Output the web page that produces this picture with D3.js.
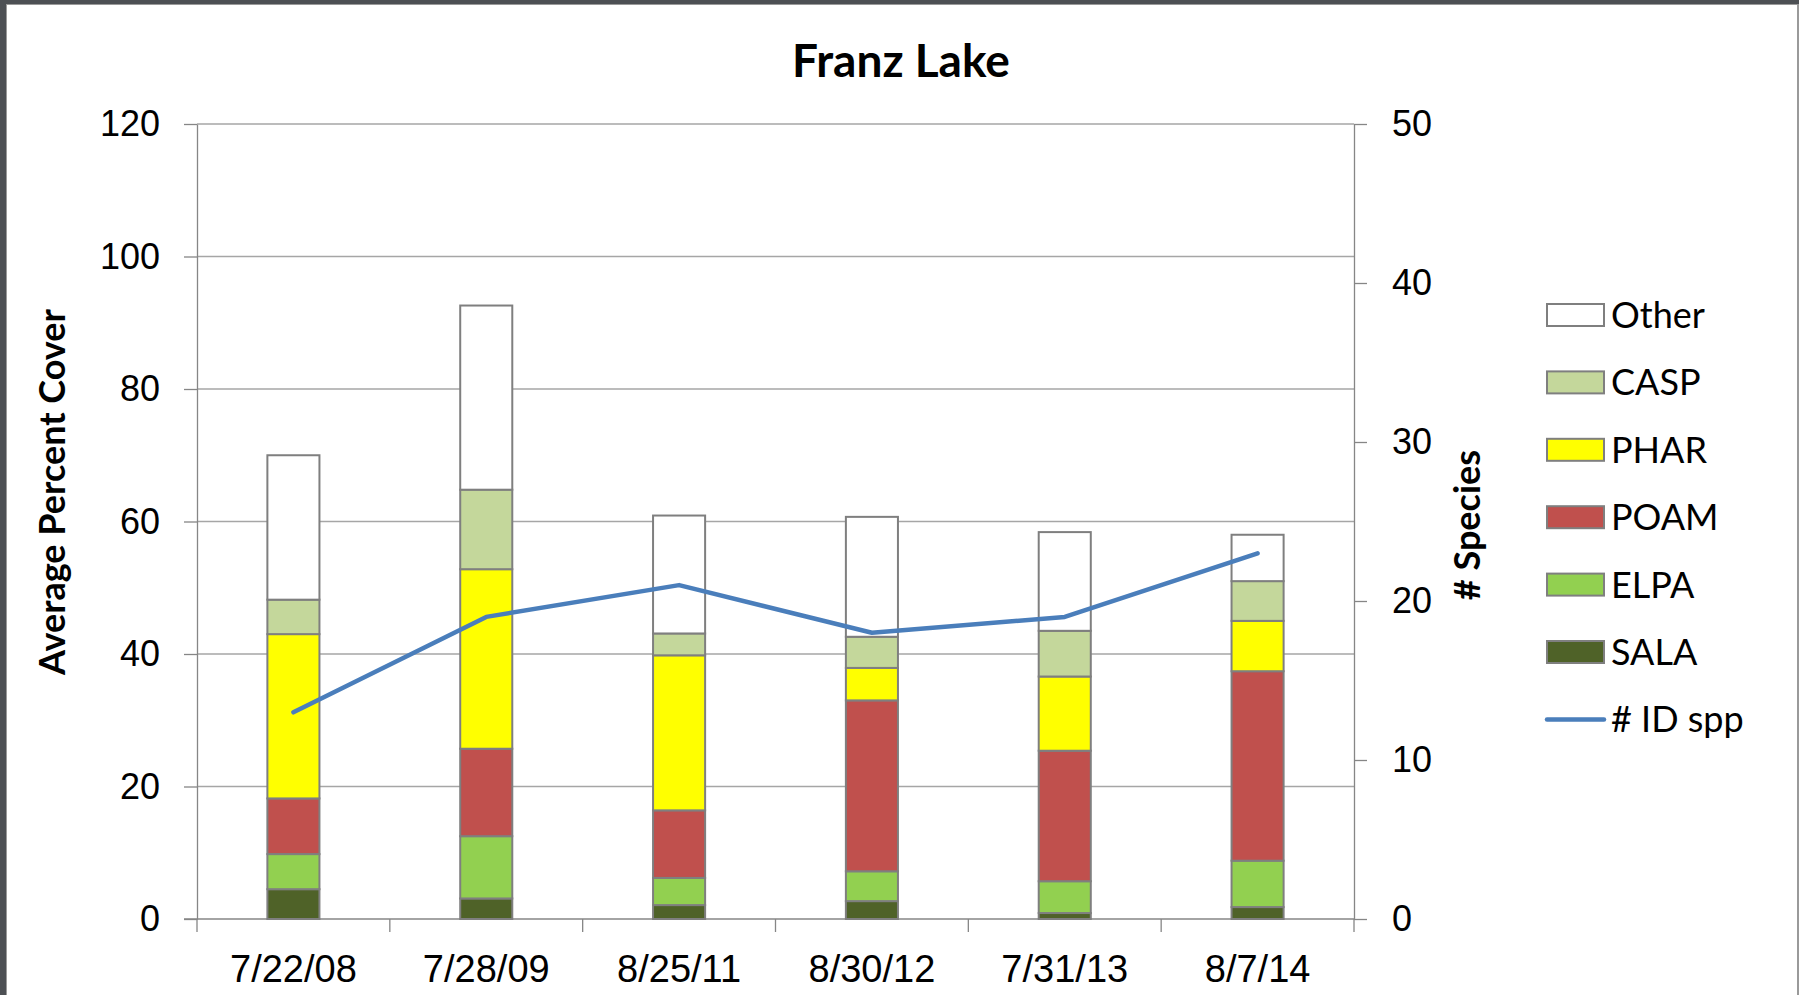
<!DOCTYPE html>
<html>
<head>
<meta charset="utf-8">
<script src="https://cdn.jsdelivr.net/npm/d3@7"></script>
<style>
  html, body { margin: 0; padding: 0; background: #fff; }
  svg { display: block; font-family: Lato, "Open Sans", sans-serif; }
</style>
</head>
<body>
<figure id="chart" style="margin:0"></figure>
<script>
// data
const dates = ["7/22/08", "7/28/09", "8/25/11", "8/30/12", "7/31/13", "8/7/14"];
const SALA  = [4.5, 3.1, 2.1, 2.7, 0.9, 1.8];
const ELPA  = [5.3, 9.4, 4.1, 4.5, 4.8, 7.0];
const POAM  = [8.4, 13.2, 10.2, 25.8, 19.7, 28.6];
const PHAR  = [24.8, 27.1, 23.4, 4.9, 11.2, 7.6];
const CASP  = [5.2, 12.0, 3.3, 4.7, 6.9, 6.0];
const Other = [21.8, 27.8, 17.8, 18.1, 14.9, 7.0];
const idSpp = [13, 19, 21, 18, 19, 23];

const leftTicks = [0, 20, 40, 60, 80, 100, 120];
const rightTicks = [0, 10, 20, 30, 40, 50];

const seriesNames = ["SALA", "ELPA", "POAM", "PHAR", "CASP", "Other"];
const seriesValues = { SALA, ELPA, POAM, PHAR, CASP, Other };
const colors = {
  SALA: "#4f6228", ELPA: "#92d050", POAM: "#c0504d",
  PHAR: "#ffff00", CASP: "#c4d79b", Other: "#ffffff"
};
const lineColor = "#4a7ebb";

const width = 1799, height = 995;
const margin = { top: 124, right: 445, bottom: 76, left: 197 };

const svg = d3.select("figure#chart")
  .append("svg")
  .attr("width", width)
  .attr("height", height);

// window frame
svg.append("rect").attr("width", width).attr("height", height).attr("fill", "#4d5054");
svg.append("rect").attr("x", 6).attr("y", 4).attr("width", width - 6).attr("height", height - 4).attr("fill", "#9a9a9a");
svg.append("rect").attr("x", 7).attr("y", 5).attr("width", width - 7 - 3).attr("height", height - 5).attr("fill", "#fff");
svg.append("rect").attr("x", width - 3).attr("y", 5).attr("width", 1).attr("height", height).attr("fill", "#fff");

const table = dates.map((d, i) => {
  const row = { date: d };
  seriesNames.forEach(s => row[s] = seriesValues[s][i]);
  return row;
});
const stacked = d3.stack().keys(seriesNames)(table);

const x = d3.scaleBand()
  .domain(dates)
  .range([margin.left, width - margin.right])
  .paddingInner(0.73)
  .paddingOuter(0.365);

const y = d3.scaleLinear().domain([0, 120]).range([height - margin.bottom, margin.top]);
const y2 = d3.scaleLinear().domain([0, 50]).range([height - margin.bottom, margin.top]);

const x0 = margin.left, x1 = width - margin.right;
const yBase = y(0);

// gridlines
svg.append("g")
  .selectAll("line")
  .data(leftTicks.filter(t => t > 0))
  .join("line")
  .attr("x1", x0).attr("x2", x1)
  .attr("y1", d => y(d)).attr("y2", d => y(d))
  .attr("stroke", "#a6a6a6")
  .attr("stroke-width", 1.3);

// left axis
const leftAxis = svg.append("g")
  .attr("transform", `translate(${x0},0)`)
  .call(d3.axisLeft(y).tickValues(leftTicks).tickSize(13).tickSizeOuter(0).tickPadding(24));

// right axis
const rightAxis = svg.append("g")
  .attr("transform", `translate(${x1},0)`)
  .call(d3.axisRight(y2).tickValues(rightTicks).tickSize(13).tickSizeOuter(0).tickPadding(25));

// x axis: labels centred on bars, ticks at category boundaries
const xAxis = svg.append("g")
  .attr("transform", `translate(0,${yBase})`)
  .call(d3.axisBottom(x).tickSize(0).tickPadding(36));
xAxis.select(".domain").remove();

svg.append("line")
  .attr("x1", x0 - 13).attr("x2", x1)
  .attr("y1", yBase).attr("y2", yBase)
  .attr("stroke", "#868686").attr("stroke-width", 1.3);

svg.append("g")
  .selectAll("line")
  .data(d3.range(dates.length + 1))
  .join("line")
  .attr("x1", i => x0 + i * x.step()).attr("x2", i => x0 + i * x.step())
  .attr("y1", yBase).attr("y2", yBase + 13)
  .attr("stroke", "#868686").attr("stroke-width", 1.3);

[leftAxis, rightAxis].forEach(g => {
  g.selectAll("text").attr("font-size", 36).attr("fill", "#000");
  g.selectAll(".tick line").attr("stroke", "#868686").attr("stroke-width", 1.3);
  g.select(".domain").attr("stroke", "#868686").attr("stroke-width", 1.3);
});
xAxis.selectAll("text").attr("font-size", 38).attr("fill", "#000");

// stacked bars
svg.append("g")
  .selectAll("g")
  .data(stacked)
  .join("g")
  .attr("fill", d => colors[d.key])
  .selectAll("rect")
  .data(d => d)
  .join("rect")
  .attr("x", d => x(d.data.date))
  .attr("y", d => y(d[1]))
  .attr("width", x.bandwidth())
  .attr("height", d => y(d[0]) - y(d[1]))
  .attr("stroke", "#7f7f7f")
  .attr("stroke-width", 2);

// species line
const line = d3.line()
  .x((d, i) => x(dates[i]) + x.bandwidth() / 2)
  .y(d => y2(d));

svg.append("path")
  .datum(idSpp)
  .attr("d", line)
  .attr("fill", "none")
  .attr("stroke", lineColor)
  .attr("stroke-width", 4.5)
  .attr("stroke-linejoin", "round")
  .attr("stroke-linecap", "round");

// title and axis labels
svg.append("text")
  .attr("x", 901).attr("y", 77)
  .attr("text-anchor", "middle")
  .attr("font-size", 46).attr("font-weight", "bold")
  .text("Franz Lake");

svg.append("text")
  .attr("transform", "translate(65,492) rotate(-90)")
  .attr("text-anchor", "middle")
  .attr("font-size", 36).attr("font-weight", "bold")
  .text("Average Percent Cover");

svg.append("text")
  .attr("transform", "translate(1480,525) rotate(-90)")
  .attr("text-anchor", "middle")
  .attr("font-size", 36).attr("font-weight", "bold")
  .text("# Species");

// legend
const legendItems = ["Other", "CASP", "PHAR", "POAM", "ELPA", "SALA", "# ID spp"];
const legend = svg.append("g")
  .selectAll("g")
  .data(legendItems)
  .join("g")
  .attr("transform", (d, i) => `translate(1547,${315 + i * 67.4})`);

legend.filter(d => d !== "# ID spp")
  .append("rect")
  .attr("x", 0).attr("y", -11)
  .attr("width", 57).attr("height", 22)
  .attr("fill", d => colors[d])
  .attr("stroke", "#7f7f7f")
  .attr("stroke-width", 2);

legend.filter(d => d === "# ID spp")
  .append("line")
  .attr("x1", 0).attr("x2", 57)
  .attr("stroke", lineColor)
  .attr("stroke-width", 4.5)
  .attr("stroke-linecap", "round");

legend.append("text")
  .attr("x", 64)
  .attr("dy", "0.36em")
  .attr("font-size", 36)
  .text(d => d);
</script>
</body>
</html>
